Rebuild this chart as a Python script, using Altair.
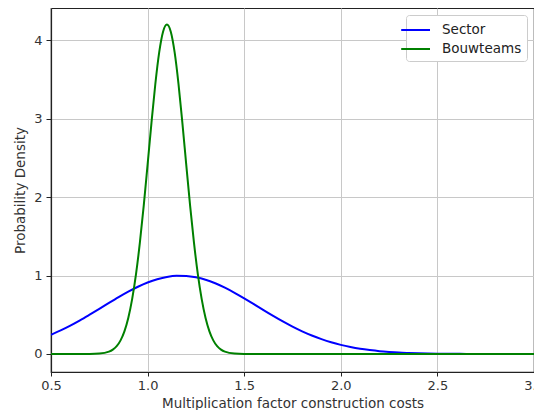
import altair as alt
import pandas as pd

# Sector curve
sector_x = [0.50, 0.55, 0.60, 0.65, 0.70, 0.75, 0.80, 0.85, 0.90, 0.95,
            1.00, 1.05, 1.10, 1.15, 1.20, 1.25, 1.30, 1.35, 1.40, 1.45,
            1.50, 1.55, 1.60, 1.65, 1.70, 1.75, 1.80, 1.85, 1.90, 1.95,
            2.00, 2.05, 2.10, 2.15, 2.20, 2.25, 2.30, 2.35, 2.40, 2.45,
            2.50, 2.55, 2.60, 2.65, 2.70, 2.75, 2.80, 2.90, 3.00]
sector_y = [0.245, 0.300, 0.361, 0.428, 0.500, 0.574, 0.650, 0.724, 0.794, 0.857,
            0.911, 0.953, 0.982, 0.996, 0.994, 0.977, 0.946, 0.901, 0.845, 0.780,
            0.709, 0.635, 0.559, 0.485, 0.414, 0.348, 0.288, 0.235, 0.189, 0.149,
            0.116, 0.089, 0.067, 0.050, 0.036, 0.026, 0.018, 0.013, 0.009, 0.006,
            0.004, 0.003, 0.002, 0.001, 0.001, 0.000, 0.000, 0.000, 0.000]

# Bouwteams curve
bouw_x = [0.50, 0.60, 0.70, 0.75, 0.80, 0.82, 0.84, 0.86, 0.88, 0.90,
          0.92, 0.94, 0.96, 0.98, 1.00, 1.02, 1.04, 1.06, 1.08, 1.10,
          1.12, 1.14, 1.16, 1.18, 1.20, 1.22, 1.24, 1.26, 1.28, 1.30,
          1.32, 1.34, 1.36, 1.38, 1.40, 1.45, 1.50, 1.60, 2.00, 2.50, 3.00]
bouw_y = [0.000, 0.000, 0.001, 0.005, 0.029, 0.055, 0.099, 0.173, 0.288, 0.458,
          0.698, 1.017, 1.418, 1.891, 2.414, 2.946, 3.441, 3.844, 4.108, 4.200,
          4.108, 3.844, 3.441, 2.946, 2.414, 1.891, 1.418, 1.017, 0.698, 0.458,
          0.288, 0.173, 0.099, 0.055, 0.029, 0.005, 0.001, 0.000, 0.000, 0.000, 0.000]

series_names = ["Sector", "Bouwteams"]
series_colors = ["#0000ff", "#008000"]
x_ticks = [0.5, 1.0, 1.5, 2.0, 2.5, 3.0]
y_ticks = [0, 1, 2, 3, 4]

df = pd.concat([
    pd.DataFrame({"x": sector_x, "y": sector_y, "series": "Sector", "order": range(len(sector_x))}),
    pd.DataFrame({"x": bouw_x, "y": bouw_y, "series": "Bouwteams", "order": range(len(bouw_x))}),
])

font = "DejaVu Sans"

chart = alt.Chart(df).mark_line(strokeWidth=2, interpolate="monotone", clip=True).encode(
    x=alt.X("x:Q", scale=alt.Scale(domain=[0.5, 3.0], nice=False, zero=False),
            axis=alt.Axis(title="Multiplication factor construction costs", values=x_ticks,
                          format=".1f", labelFlush=False, labelPadding=3, tickSize=4,
                          labelFontSize=13, titleFontSize=13.5, titlePadding=4)),
    y=alt.Y("y:Q", scale=alt.Scale(domain=[-0.23, 4.41], nice=False, zero=False),
            axis=alt.Axis(title="Probability Density", values=y_ticks, format="d",
                          tickSize=5, labelPadding=4, titlePadding=6,
                          labelFontSize=13, titleFontSize=13.5)),
    color=alt.Color("series:N",
                    scale=alt.Scale(domain=series_names, range=series_colors),
                    sort=series_names,
                    legend=alt.Legend(title=None, orient="none", legendX=355, legendY=7,
                                      symbolType="M-2.2,0H1", symbolStrokeWidth=2,
                                      symbolSize=324, fillColor="white",
                                      strokeColor="#cccccc", cornerRadius=3,
                                      padding=5, labelFontSize=13.5, labelFont=font,
                                      labelColor="#222222", rowPadding=2,
                                      labelOffset=11)),
    order="order:Q",
).properties(
    width=483, height=364,
    autosize=alt.AutoSizeParams(type="none"),
    padding={"left": 43, "top": 0, "right": 0, "bottom": 38},
).configure_view(
    stroke="#222222", strokeWidth=1.2
).configure_axis(
    grid=True, gridColor="#c8c8c8", gridWidth=1,
    domainColor="#222222", domainWidth=1.2,
    tickColor="#222222",
    labelFont=font, labelColor="#333333",
    titleFont=font, titleFontWeight="normal", titleColor="#333333",
)

chart.save("out.html", embed_options={"renderer": "svg", "actions": False})
